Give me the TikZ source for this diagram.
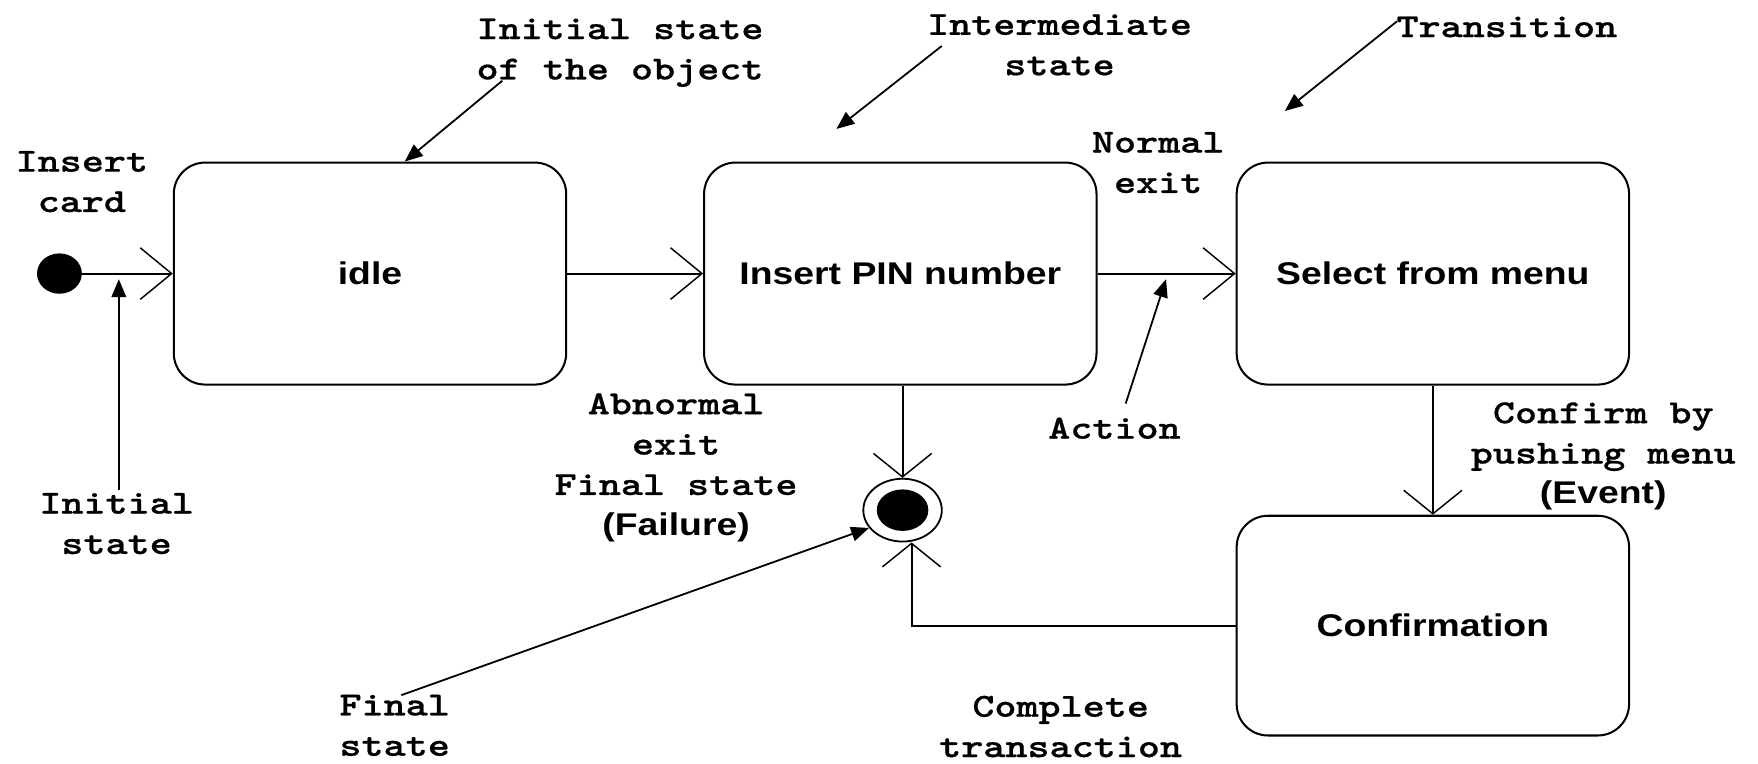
\documentclass[tikz,border=0pt]{standalone}
\usepackage{fontspec}
\setmainfont{Liberation Sans}
% typewriter face for the callouts, sans face for the states
\newfontfamily\notefont{lmmonolt10-bold}[Extension=.otf, FakeStretch=1.25, FakeBold=0.6]
\newfontfamily\statefont{Liberation Sans}[FakeStretch=1.19]
\usetikzlibrary{arrows.meta, shapes.geometric}

\begin{document}
\begin{tikzpicture}[x=1pt, y=-1pt,
  stateBox/.style={draw, line width=1.8pt, rounded corners=28pt,
    minimum width=350pt, minimum height=198pt, inner sep=0pt,
    font=\statefont\bfseries\fontsize{28}{34}\selectfont},
  note/.style={font=\notefont\fontsize{30}{36}\selectfont, align=center, inner sep=0pt},
  trans/.style={line width=1.8pt,
    -{Straight Barb[length=28pt, width=46pt, line width=1.3pt]}},
  transV/.style={line width=1.8pt,
    -{Straight Barb[length=21pt, width=52pt, line width=1.3pt]}},
  pointer/.style={line width=1.6pt, -{Triangle[length=16pt, width=13pt]}}
]
\useasboundingbox (0,0) rectangle (1568,681);

% states
\node[stateBox] (idle) at (330,244) {idle};
\node[stateBox] (pin) at (803,244) {Insert PIN number};
\node[stateBox] (menu) at (1278,244) {Select from menu};
\node[stateBox, minimum height=196pt] (confirm) at (1278,558) {Confirmation};

% initial and final pseudo-states
\node[ellipse, fill, minimum width=40pt, minimum height=36pt, inner sep=0pt] (start) at (53,244) {};
\node[ellipse, draw, line width=1.6pt, minimum width=70pt, minimum height=56pt, inner sep=0pt] (final) at (805,455) {};
\node[ellipse, fill, minimum width=46pt, minimum height=37pt, inner sep=0pt] (finalDot) at (final.center) {};

% transitions
\draw[trans] (start) -- (idle);
\draw[trans] (idle) -- (pin);
\draw[trans] (pin) -- (menu);
\draw[transV] (menu) -- (confirm);
\draw[transV] (pin.south -| final.north) -- (final.north);
\draw[transV] (confirm.west) -| ([xshift=8pt]final.south);

% callout texts
\node[note] (nObj) at (553,47) {Initial state\\of the object};
\node[note] (nInter) at (945,40) {Intermediate\\state};
\node[note] (nTrans) at (1344,24) {Transition};
\node[note] (nCard) at (73,162) {Insert\\card};
\node[note] (nInit) at (104,467) {Initial\\state};
\node[note] (nNormal) at (1033,145) {Normal\\exit};
\node[note] (nAction) at (994,382) {Action};
\node[note] (nAbn) at (603,417) {Abnormal\\exit\\Final state\\{\statefont\bfseries\fontsize{28}{36}\selectfont (Failure)}};
\node[note] (nFinal) at (352,647) {Final\\state};
\node[note] (nComplete) at (946,648) {Complete\\transaction};
\node[note] (nConfirm) at (1430,407) {Confirm by\\pushing menu\\{\statefont\bfseries\fontsize{28}{36}\selectfont (Event)}};

% callout pointer ends
\coordinate (tObj) at (448,72);
\coordinate (tInter) at (840,41);
\coordinate (hInter) at (746,115);
\coordinate (tTrans) at (1246,19);
\coordinate (hTrans) at (1146,99);
\coordinate (tInit) at (106,437);
\coordinate (hInit) at (106,249);
\coordinate (tAction) at (1004,360);
\coordinate (hAction) at (1040,249);
\coordinate (tFinal) at (358,620);

% callout pointers
\draw[pointer] (tObj) -- ([xshift=31pt]idle.north);
\draw[pointer] (tInter) -- (hInter);
\draw[pointer] (tTrans) -- (hTrans);
\draw[pointer] (tInit) -- (hInit);
\draw[pointer] (tAction) -- (hAction);
\draw[pointer] (tFinal) -- (final.208);
\end{tikzpicture}
\end{document}
